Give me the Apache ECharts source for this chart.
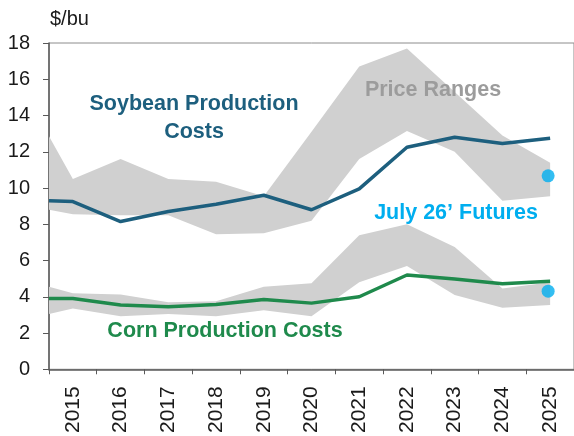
<!DOCTYPE html>
<html>
<head>
<meta charset="utf-8">
<script src="https://cdn.jsdelivr.net/npm/echarts@6/dist/echarts.min.js"></script>
<style>
  html, body { margin: 0; padding: 0; background: #fff; }
  #chart { width: 574px; height: 436px; }
</style>
</head>
<body>
<div id="chart"></div>
<script>
// x labels (category axis) and data positions (hidden value axis, first point sits on the left edge)
const years   = ['2015', '2016', '2017', '2018', '2019', '2020', '2021', '2022', '2023', '2024', '2025'];
const periods = [2014.5, 2015, 2016, 2017, 2018, 2019, 2020, 2021, 2022, 2023, 2024, 2025];

const soyCost = [9.3, 9.25, 8.15, 8.7, 9.1, 9.6, 8.8, 9.95, 12.25, 12.8, 12.45, 12.75];
const soyHigh = [12.85, 10.5, 11.6, 10.5, 10.35, 9.55, 13.1, 16.7, 17.7, 15.3, 12.9, 11.4];
const soyLow  = [8.8, 8.55, 8.5, 8.5, 7.45, 7.5, 8.2, 11.6, 13.15, 12.0, 9.3, 9.55];

const cornCost = [3.9, 3.9, 3.55, 3.45, 3.57, 3.85, 3.65, 4.0, 5.2, 4.98, 4.72, 4.86];
const cornHigh = [4.55, 4.2, 4.12, 3.7, 3.75, 4.55, 4.75, 7.4, 8.0, 6.75, 4.45, 4.8];
const cornLow  = [3.05, 3.35, 2.93, 3.05, 2.93, 3.25, 2.93, 4.8, 5.7, 4.1, 3.4, 3.55];

const futuresYear = 2025;
const soyFutures  = 10.67;
const cornFutures = 4.31;

const C = {
  soy:    '#1d5f7e',
  corn:   '#1f8a4c',
  band:   '#d0d0d0',
  fut:    '#00aeef',
  range:  '#9c9c9c',
  axis:   '#595959',
  text:   '#1a1a1a',
};
const FONT = 'Liberation Sans, Arial, sans-serif';

const pts = (ys) => ys.map((y, i) => [periods[i], y]);

// shaded range: one polygon, upper edge left->right then lower edge back
function band(name, lo, hi) {
  return {
    name, type: 'custom', xAxisIndex: 1, z: 1, silent: true,
    data: periods.map((p, i) => [p, lo[i], hi[i]]),
    encode: { x: 0, y: [1, 2] },
    renderItem(params, api) {
      if (params.dataIndex !== 0) return null;
      const top = periods.map((p, i) => api.coord([p, hi[i]]));
      const bot = periods.map((p, i) => api.coord([p, lo[i]])).reverse();
      return {
        type: 'polygon',
        shape: { points: top.concat(bot) },
        style: { fill: C.band },
      };
    },
  };
}

function costLine(name, ys, color) {
  return {
    name, type: 'line', xAxisIndex: 1, data: pts(ys),
    symbol: 'none', lineStyle: { color, width: 3.5 }, z: 3,
  };
}

function label(text, x, y, color) {
  return {
    type: 'text', x, y, z: 10,
    style: {
      text, fill: color, font: `bold 21.5px ${FONT}`,
      textAlign: 'center', textVerticalAlign: 'middle',
    },
  };
}

const chart = echarts.init(document.getElementById('chart'), null, { renderer: 'canvas' });
chart.setOption({
  animation: false,
  backgroundColor: '#fff',
  grid: {
    left: 49, right: -5, top: 43, bottom: 65,
    show: true, borderColor: '#8c8c8c', borderWidth: 1, backgroundColor: 'transparent',
  },
  xAxis: [
    {
      type: 'category', data: years, boundaryGap: true,
      axisLine: { lineStyle: { color: C.axis, width: 1.5 } },
      axisTick: { show: true, length: 5, lineStyle: { color: C.axis } },
      axisLabel: { rotate: 90, fontSize: 21, fontFamily: FONT, color: C.text, margin: 17 },
      splitLine: { show: false },
    },
    { type: 'value', min: 2014.5, max: 2025.5, show: false },
  ],
  yAxis: {
    type: 'value', min: 0, max: 18, interval: 2,
    axisLine: { show: true, lineStyle: { color: C.axis, width: 1.5 } },
    axisTick: { show: true, length: 6, lineStyle: { color: C.axis } },
    axisLabel: { fontSize: 20, fontFamily: FONT, color: C.text, margin: 19 },
    splitLine: { show: false },
  },
  series: [
    band('Soybean Price Range', soyLow, soyHigh),
    band('Corn Price Range', cornLow, cornHigh),
    costLine('Soybean Production Costs', soyCost, C.soy),
    costLine('Corn Production Costs', cornCost, C.corn),
    {
      name: "July 26' Futures", type: 'scatter', xAxisIndex: 1,
      data: [[futuresYear, soyFutures], [futuresYear, cornFutures]],
      symbol: 'circle', symbolSize: 13, symbolOffset: [-2, 0],
      itemStyle: { color: C.fut }, z: 4,
    },
  ],
  graphic: [
    { type: 'text', left: 50, top: 9, style: { text: '$/bu', fill: C.text, font: `20px ${FONT}` } },
    label('Soybean Production', 194, 104, C.soy),
    label('Costs', 194, 132, C.soy),
    label('Price Ranges', 433, 90, C.range),
    label('July 26\u2019 Futures', 456, 213, C.fut),
    label('Corn Production Costs', 225, 331, C.corn),
  ],
});
</script>
</body>
</html>
